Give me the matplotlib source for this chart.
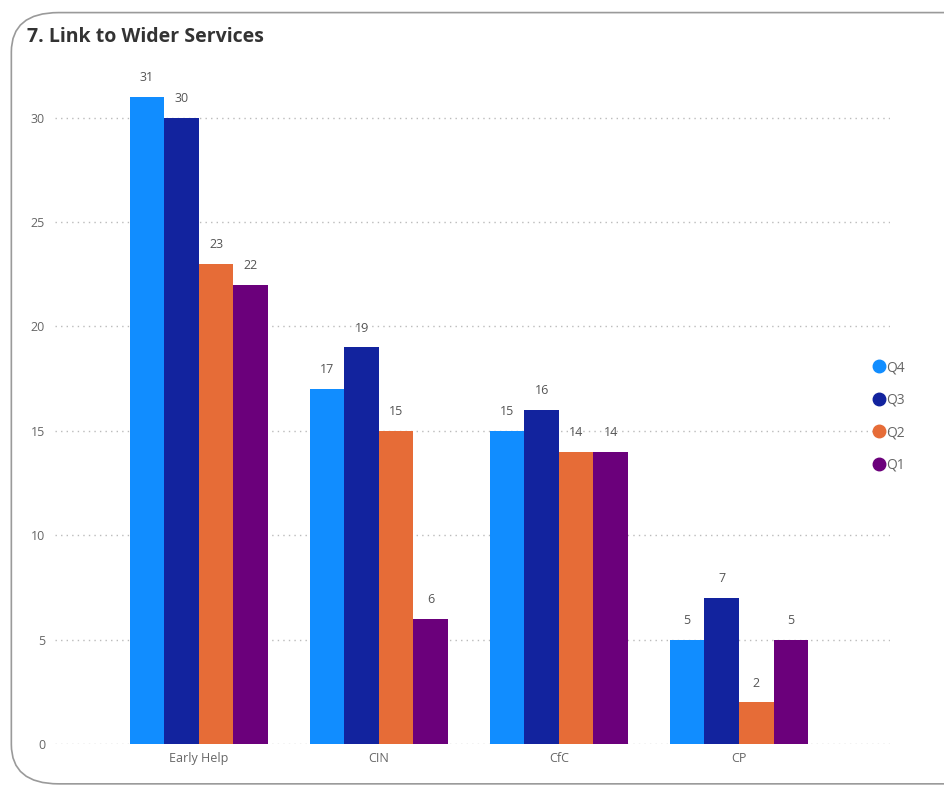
import numpy as np
import matplotlib.pyplot as plt
from matplotlib.patches import FancyBboxPatch
from matplotlib.lines import Line2D

categories = ["Early Help", "CIN", "CfC", "CP"]
series = ["Q4", "Q3", "Q2", "Q1"]
q4 = [31, 17, 15, 5]
q3 = [30, 19, 16, 7]
q2 = [23, 15, 14, 2]
q1 = [22, 6, 14, 5]
colors = ["#118DFF", "#12239E", "#E66C37", "#6B007B"]

plt.rcParams['font.family'] = ['Open Sans', 'DejaVu Sans']

fig = plt.figure(figsize=(9.45, 7.87), dpi=100)

# rounded card outline
card = FancyBboxPatch((0.012, 0.004), 1.05, 0.98,
                      boxstyle="round,pad=0,rounding_size=0.05",
                      transform=fig.transFigure, facecolor="none",
                      edgecolor="#9a9a9a", linewidth=1.2, clip_on=False,
                      zorder=-1)
fig.patches.append(card)

fig.text(0.029, 0.953, "7. Link to Wider Services", fontsize=14,
         fontweight="bold", color="#333333", va="center", ha="left")

ax = fig.add_axes([0.058, 0.0546, 0.884, 0.8624])
ax.set_facecolor("none")

x = np.arange(len(categories))
width = 0.192
for i, (vals, col) in enumerate(zip([q4, q3, q2, q1], colors)):
    pos = x + (i - 1.5) * width
    ax.bar(pos, vals, width=width, color=col, zorder=3)
    for px, v in zip(pos, vals):
        ax.text(px, v + 0.6, str(v), ha="center", va="bottom",
                fontsize=9, color="#555555")

ax.set_xlim(-0.8, 3.84)
ax.set_ylim(0, 32.5)
ax.set_yticks([0, 5, 10, 15, 20, 25, 30])
ax.set_xticks(x)
ax.set_xticklabels(categories)
ax.tick_params(axis="both", length=0, labelsize=9, colors="#666666")
ax.tick_params(axis="y", pad=7)
ax.tick_params(axis="x", pad=6)
ax.yaxis.grid(True, linestyle=(0, (1, 3)), color="#bbbbbb", linewidth=1, zorder=0)
for s in ax.spines.values():
    s.set_visible(False)

handles = [Line2D([], [], marker="o", linestyle="none", markersize=9,
                  markerfacecolor=c, markeredgecolor=c) for c in colors]
fig.legend(handles, series, loc="center left", bbox_to_anchor=(0.91, 0.471),
           frameon=False, handletextpad=0.0, labelspacing=1.25, fontsize=10,
           labelcolor="#666666", handlelength=1.0)

fig.savefig("out.png", dpi=100)
